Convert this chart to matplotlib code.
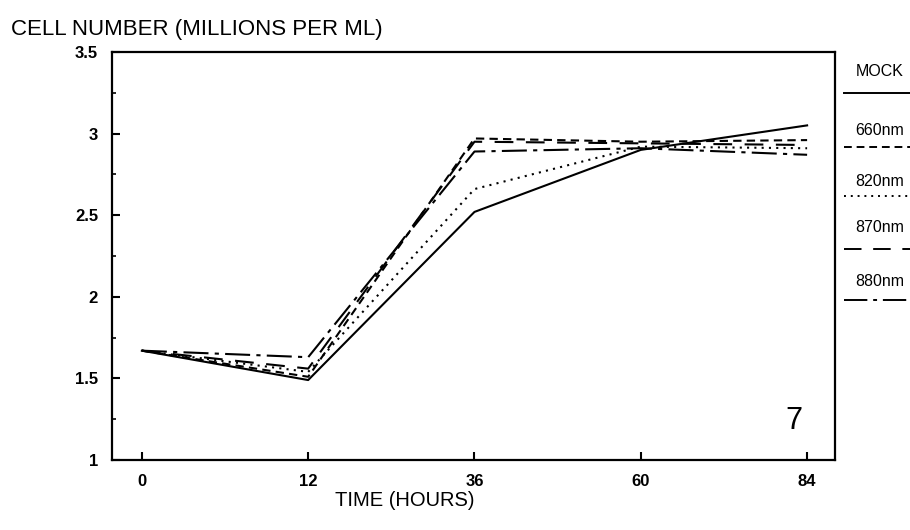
#!/usr/bin/env python3
"""Cell number over time for mock and light-treated cultures (figure 7)."""

import numpy as np
import matplotlib
matplotlib.use('Agg')
import matplotlib.pyplot as plt
from matplotlib.lines import Line2D
from matplotlib.ticker import MultipleLocator

HOURS = ['0', '12', '36', '60', '84']

MOCK = [1.67, 1.49, 2.52, 2.90, 3.05]
NM660 = [1.67, 1.51, 2.97, 2.95, 2.96]
NM820 = [1.67, 1.54, 2.66, 2.92, 2.91]
NM870 = [1.67, 1.56, 2.95, 2.94, 2.93]
NM880 = [1.67, 1.63, 2.89, 2.91, 2.87]

SERIES_LABELS = ['MOCK', '660nm', '820nm', '870nm', '880nm']

plt.rcParams['font.family'] = ['Liberation Sans', 'DejaVu Sans']

styles = ['-', (0, (4, 2.5)), (0, (1, 2.5)), (0, (9, 6)), (0, (12, 3, 2, 3))]
series = [MOCK, NM660, NM820, NM870, NM880]

fig = plt.figure(figsize=(9.1, 5.3), dpi=100)
ax = fig.add_axes([0.123, 0.132, 0.795, 0.770])

x = np.arange(len(HOURS))
for vals, ls in zip(series, styles):
    ax.plot(x, vals, color='black', linestyle=ls, linewidth=1.5)

ax.set_xlim(-0.18, 4.17)
ax.set_ylim(1, 3.5)
ax.set_xticks(x)
ax.set_xticklabels(HOURS, fontsize=12, fontweight='bold')
ax.yaxis.set_minor_locator(MultipleLocator(0.25))
ax.set_yticks([1, 1.5, 2, 2.5, 3, 3.5])
ax.set_yticklabels(['1', '1.5', '2', '2.5', '3', '3.5'], fontsize=12, fontweight='bold')
ax.tick_params(axis='both', which='major', direction='in', length=6, width=1.5, pad=10)
ax.tick_params(axis='y', which='minor', direction='in', length=3, width=1.2)
for sp in ax.spines.values():
    sp.set_linewidth(1.6)

ax.text(0.955, 0.06, '7', transform=ax.transAxes, ha='right', va='bottom',
        fontsize=22)

fig.text(0.012, 0.945, 'CELL NUMBER (MILLIONS PER ML)', fontsize=16,
         ha='left', va='center')
fig.text(0.445, 0.055, 'TIME (HOURS)', fontsize=14.5, ha='center', va='center')

# legend drawn outside the axes on the right
label_y = [0.865, 0.753, 0.657, 0.570, 0.468]
line_y = [0.825, 0.723, 0.630, 0.530, 0.434]
for lab, ly, ky, ls in zip(SERIES_LABELS, label_y, line_y, styles):
    fig.text(0.967, ly, lab, fontsize=11.5, ha='center', va='center')
    fig.add_artist(Line2D([0.928, 1.0], [ky, ky], transform=fig.transFigure,
                          color='black', linestyle=ls, linewidth=1.4))

fig.savefig('out.png', dpi=100)
